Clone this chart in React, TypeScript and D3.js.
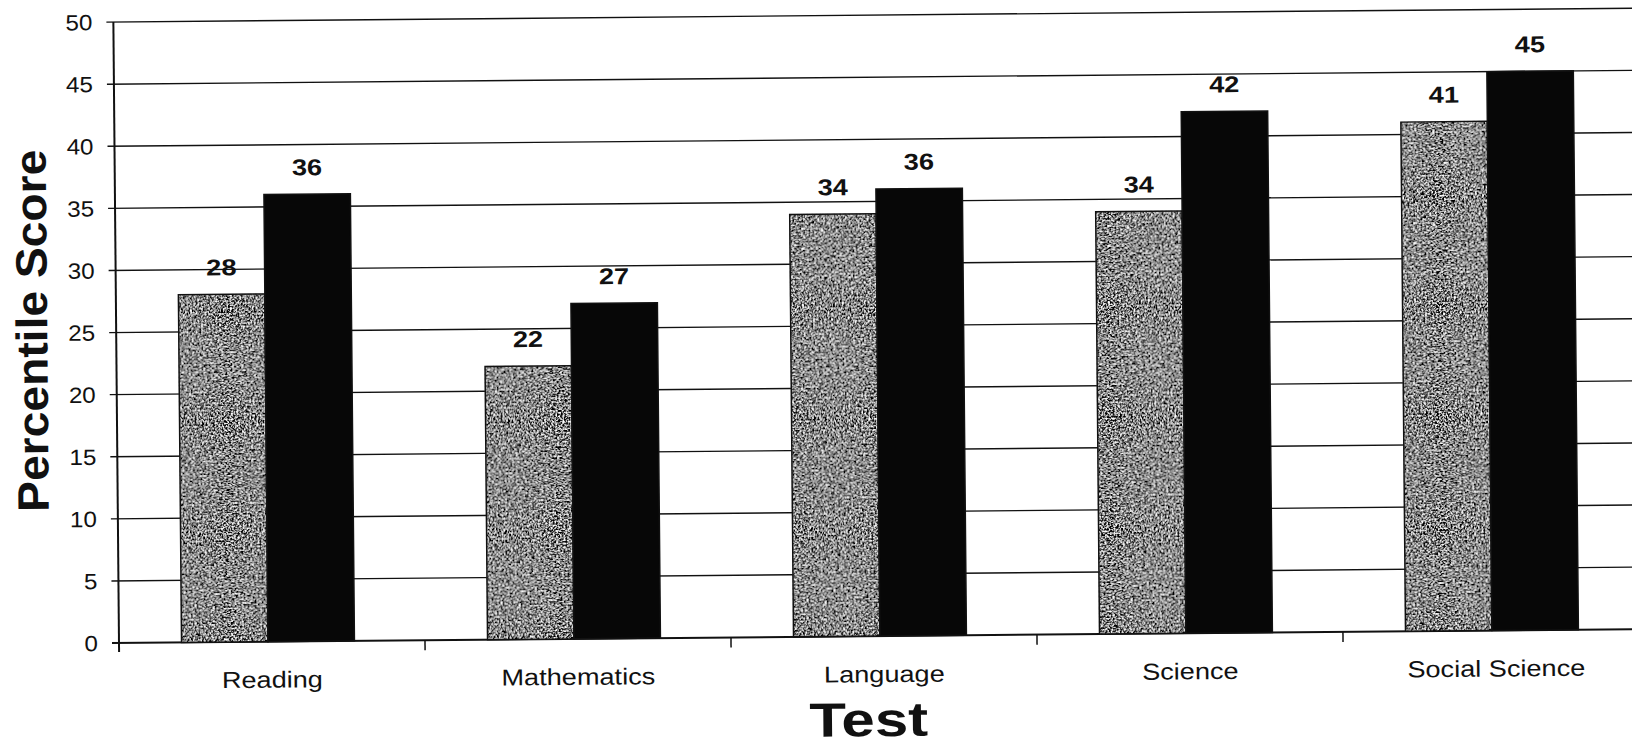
// @ts-nocheck
import * as d3 from "d3";
import React from "react";

// chart data
const tests = ["Reading", "Mathematics", "Language", "Science", "Social Science"];
const seriesKeys = ["first", "second"];
const firstScores = [28, 22, 34, 34, 41];
const secondScores = [36, 27, 36, 42, 45];
const yTicks = [0, 5, 10, 15, 20, 25, 30, 35, 40, 45, 50];

const W = 1632;
const H = 748;
const x0 = 119; // plot left
const y0 = 643; // zero line
const yTop = 22;
const band = 306;
const tilt = -0.52; // the scan is a little crooked

// scanned text comes out a bit wide, so stretch it horizontally
const Wide = ({ x, y, sx = 1.15, anchor = "middle", size, bold = false, dy = 0, children }) => (
  <text
    transform={`translate(${x},${y}) scale(${sx},1)`}
    dy={dy}
    textAnchor={anchor}
    fontSize={size}
    fontWeight={bold ? "bold" : "normal"}
    fill="#111"
  >
    {children}
  </text>
);

const App = () => {
  const x = d3
    .scaleBand()
    .domain(tests)
    .range([x0, x0 + band * tests.length])
    .paddingInner(0)
    .paddingOuter(0);
  const xs = d3
    .scaleBand()
    .domain(seriesKeys)
    .range([-4, x.bandwidth() - 4])
    .paddingInner(0)
    .paddingOuter(0.77);
  const y = d3.scaleLinear([0, 50], [y0, yTop]);

  const rows = tests.map((t, i) => ({
    test: t,
    vals: [
      { key: "first", v: firstScores[i] },
      { key: "second", v: secondScores[i] },
    ],
  }));

  const font = "'Liberation Sans', Arial, sans-serif";

  return (
    <svg
      width={W}
      height={H}
      style={{ position: "absolute", left: 0, top: 0, background: "#fff" }}
      fontFamily={font}
    >
      <defs>
        <filter id="speckle" x="0" y="0" width="100%" height="100%">
          <feTurbulence
            type="fractalNoise"
            baseFrequency="0.55"
            numOctaves="2"
            seed="7"
            result="n"
          />
          <feColorMatrix
            in="n"
            type="matrix"
            values="0.33 0.33 0.33 0 0  0.33 0.33 0.33 0 0  0.33 0.33 0.33 0 0  0 0 0 0 1"
            result="g"
          />
          <feComponentTransfer in="g" result="c">
            <feFuncR type="linear" slope="6" intercept="-2.75" />
            <feFuncG type="linear" slope="6" intercept="-2.75" />
            <feFuncB type="linear" slope="6" intercept="-2.75" />
          </feComponentTransfer>
          <feComposite in="c" in2="SourceGraphic" operator="in" />
        </filter>
      </defs>

      <g transform={`rotate(${tilt},${x0},${y0})`}>
        {/* gridlines + y ticks */}
        {yTicks.map((t) => (
          <g key={t}>
            <line
              x1={x0 - 7}
              x2={W + 60}
              y1={y(t)}
              y2={y(t)}
              stroke="#111"
              strokeWidth={t === 0 ? 2 : 1.4}
            />
            <Wide x={x0 - 21} y={y(t)} dy="0.36em" anchor="end" size={22} sx={1.1}>
              {t}
            </Wide>
          </g>
        ))}

        {/* y axis */}
        <line x1={x0} x2={x0} y1={yTop} y2={y0 + 9} stroke="#111" strokeWidth={2} />

        {/* category ticks */}
        {tests.map((t) => (
          <line
            key={t}
            x1={x(t) + band}
            x2={x(t) + band}
            y1={y0}
            y2={y0 + 10}
            stroke="#111"
            strokeWidth={1.5}
          />
        ))}

        {/* bars */}
        {rows.map((r) => (
          <g key={r.test} transform={`translate(${x(r.test)},0)`}>
            {r.vals.map((d) => (
              <g key={d.key}>
                {d.key === "first" ? (
                  <rect
                    x={xs(d.key)}
                    y={y(d.v)}
                    width={xs.bandwidth()}
                    height={y0 - y(d.v)}
                    fill="#000"
                    filter="url(#speckle)"
                  />
                ) : null}
                <rect
                  x={xs(d.key)}
                  y={y(d.v)}
                  width={xs.bandwidth()}
                  height={y0 - y(d.v)}
                  fill={d.key === "first" ? "none" : "#070707"}
                  stroke="#111"
                  strokeWidth={1.5}
                />
                <Wide
                  x={xs(d.key) + xs.bandwidth() / 2}
                  y={y(d.v) - 19}
                  size={23}
                  bold
                  sx={1.18}
                >
                  {d.v}
                </Wide>
              </g>
            ))}
            <Wide x={band / 2} y={y0 + 46} size={23} sx={1.18}>
              {r.test}
            </Wide>
          </g>
        ))}

        {/* axis titles */}
        <text
          transform={`translate(${50},${330}) rotate(-90) scale(1.05,1)`}
          textAnchor="middle"
          fontSize={44}
          fontWeight="bold"
          fill="#111"
        >
          Percentile Score
        </text>
        <Wide x={x0 + band * 2.5 - 16} y={743} size={48} bold sx={1.25}>
          Test
        </Wide>
      </g>
    </svg>
  );
};

export default App;
